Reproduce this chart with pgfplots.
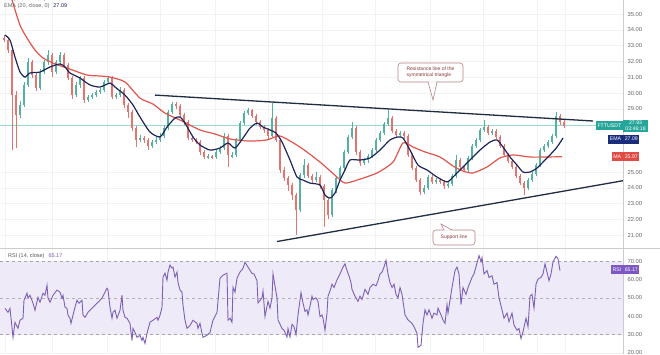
\documentclass[border=0pt]{standalone}
\usepackage{pgfplots}
\usepackage{pgfplotstable}
\pgfplotsset{compat=1.18}
\usepackage{fontspec}
\setmainfont{Liberation Sans}

\definecolor{upc}{RGB}{83,178,160}
\definecolor{dnc}{RGB}{229,115,110}
\definecolor{emac}{RGB}{28,38,92}
\definecolor{mac}{RGB}{224,86,76}
\definecolor{trend}{RGB}{30,45,65}
\definecolor{rsic}{RGB}{126,96,180}
\definecolor{tvteal}{RGB}{38,166,154}
\definecolor{emabox}{RGB}{25,45,125}
\definecolor{mabox}{RGB}{225,75,70}
\definecolor{rsibox}{RGB}{126,87,194}
\definecolor{band}{RGB}{238,234,248}
\definecolor{cbord}{RGB}{185,130,130}
\definecolor{ctext}{RGB}{140,55,55}

\pgfplotstableread{
x o h l c
4 33.48 33.67 33.20 33.35
8 33.35 33.50 32.55 32.72
12 32.72 32.90 26.39 29.87
16 29.87 30.10 26.52 28.61
20 28.61 29.50 28.40 29.24
24 29.24 30.70 29.10 30.51
28 30.51 32.20 30.40 31.96
32 31.96 32.10 30.95 31.14
36 31.14 31.30 30.10 30.32
40 30.32 31.50 30.20 31.33
44 31.33 32.10 31.20 31.96
48 31.96 32.70 31.80 32.41
52 32.41 32.55 31.00 31.33
56 31.33 32.10 31.20 31.96
60 31.96 32.60 31.80 32.41
64 32.41 32.55 31.60 31.77
68 31.77 31.90 30.80 30.95
72 30.95 31.10 29.65 29.87
76 29.87 30.70 29.75 30.51
80 30.51 31.10 30.35 30.95
84 30.95 31.05 29.40 29.56
88 29.56 29.90 29.45 29.75
92 29.75 30.00 29.65 29.87
96 29.87 30.20 29.75 30.06
100 30.06 30.35 29.95 30.19
104 30.19 30.85 30.05 30.70
108 30.70 31.10 30.60 30.95
112 30.95 31.05 29.60 29.75
116 29.75 30.00 29.60 29.87
120 29.87 30.40 29.75 30.19
124 30.19 30.30 29.05 29.24
128 29.24 29.35 28.40 28.80
132 28.80 28.95 27.60 27.78
136 27.78 27.90 26.60 27.03
140 27.03 27.35 26.90 27.15
144 27.15 27.30 26.85 27.03
148 27.03 27.15 26.40 26.65
152 26.65 27.05 26.55 26.90
156 26.90 27.20 26.80 27.03
160 27.03 27.45 26.90 27.28
164 27.28 27.95 27.15 27.78
168 27.78 28.95 27.65 28.80
172 28.80 29.45 28.70 29.30
176 29.30 29.45 29.00 29.18
180 29.18 29.30 28.45 28.61
184 28.61 28.75 28.00 28.16
188 28.16 28.30 27.00 27.15
192 27.15 27.30 26.90 27.03
196 27.03 27.15 26.75 26.90
200 26.90 27.00 26.10 26.27
204 26.27 26.40 25.80 25.95
208 25.95 26.15 25.85 26.01
212 26.01 26.10 25.80 25.95
216 25.95 26.40 25.85 26.27
220 26.27 26.65 26.15 26.52
224 26.52 27.45 26.40 27.28
228 27.28 27.40 25.32 26.08
232 25.98 26.25 25.90 26.08
236 26.08 27.15 25.95 27.03
240 27.03 28.25 26.90 28.10
244 28.10 28.85 27.95 28.73
248 28.73 29.05 28.60 28.92
252 28.92 29.00 28.40 28.54
256 28.54 28.65 28.00 28.16
260 28.16 28.30 27.70 27.85
264 27.85 28.00 27.50 27.66
268 27.66 27.80 27.10 27.28
272 27.28 29.37 27.15 28.42
276 28.42 28.55 26.90 27.03
280 27.03 27.15 24.95 25.13
284 25.13 25.30 24.45 24.62
288 24.62 24.75 23.80 24.18
292 24.18 24.30 23.20 23.54
296 23.54 23.70 21.01 22.59
300 22.59 24.95 22.45 24.81
304 24.81 25.80 24.65 25.44
308 25.44 25.55 24.60 24.75
312 24.75 24.90 24.30 24.49
316 24.49 25.00 24.35 24.68
320 24.68 24.80 23.95 24.11
324 24.11 24.25 21.52 23.23
328 23.23 23.40 22.00 22.28
332 22.28 24.00 22.15 23.86
336 23.86 24.75 23.70 24.62
340 24.62 25.40 24.50 25.25
344 25.25 26.40 25.10 26.27
348 26.27 27.35 26.15 27.22
352 27.22 28.16 27.10 27.78
356 27.78 27.90 26.10 26.27
360 26.27 26.40 25.40 25.57
364 25.57 25.90 25.45 25.76
368 25.76 26.15 25.60 26.01
372 26.01 26.50 25.90 26.39
376 26.39 27.15 26.25 27.03
380 27.03 27.60 26.90 27.47
384 27.47 28.15 27.35 28.04
388 28.04 28.92 27.90 28.42
392 28.42 28.55 27.45 27.59
396 27.59 27.75 27.20 27.34
400 27.34 27.60 27.20 27.47
404 27.47 27.60 27.10 27.28
408 27.28 27.40 25.95 26.08
412 26.08 26.20 25.10 25.25
416 25.25 25.40 24.35 24.49
420 24.49 24.60 23.55 23.73
424 23.73 24.15 23.60 23.99
428 23.99 24.80 23.85 24.68
432 24.68 24.80 24.25 24.37
436 24.37 24.65 24.25 24.49
440 24.49 24.60 24.25 24.37
444 24.37 24.50 23.95 24.11
448 24.11 24.40 24.00 24.24
452 24.24 24.90 24.10 24.75
456 24.75 26.08 24.60 25.76
460 25.76 25.90 25.20 25.32
464 25.32 25.45 25.00 25.13
468 25.13 26.00 25.00 25.89
472 25.89 26.80 25.75 26.65
476 26.65 27.15 26.50 27.03
480 27.03 27.80 26.90 27.66
484 27.66 28.29 27.55 27.85
488 27.85 27.95 27.35 27.47
492 27.47 27.75 27.35 27.59
496 27.59 27.70 27.10 27.22
500 27.22 27.35 26.50 26.65
504 26.65 26.80 25.95 26.08
508 26.08 26.20 25.55 25.70
512 25.70 25.85 25.20 25.32
516 25.32 25.45 24.60 24.75
520 24.75 24.90 24.15 24.30
524 24.30 24.45 23.54 23.99
528 23.99 24.60 23.85 24.49
532 24.49 25.00 24.35 24.87
536 24.87 25.55 24.75 25.44
540 25.44 26.50 25.30 26.39
544 26.39 26.80 26.25 26.65
548 26.65 27.00 26.50 26.90
552 26.90 27.40 26.80 27.28
556 27.28 28.80 27.15 28.54
560 28.54 28.65 28.00 28.16
564 28.16 28.30 27.80 27.93
}\candles

\pgfplotstableread{
x y
5 33.67
10 33.35
15 32.28
20 31.33
25 31.01
30 31.27
40 31.33
50 31.65
60 31.84
65 31.65
70 31.27
80 30.95
90 30.51
100 30.38
110 30.63
115 30.38
125 29.87
133 29.24
140 28.48
150 27.53
160 27.22
167 27.85
175 28.42
180 28.48
185 28.10
193 27.22
200 26.71
210 26.39
220 26.52
228 26.84
235 26.52
243 27.15
250 27.78
257 28.10
263 27.85
270 27.66
276 27.47
282 26.90
290 25.76
297 24.68
303 24.49
310 24.30
320 24.18
325 23.54
330 23.35
335 23.67
340 24.49
345 25.13
350 25.76
360 25.76
370 25.89
380 26.39
390 27.03
398 27.22
403 27.15
410 26.39
418 25.44
427 25.13
437 24.68
447 24.37
453 24.68
460 25.13
470 25.76
480 26.39
490 26.90
497 27.03
503 26.58
510 25.95
517 25.44
523 25.00
530 25.00
537 25.25
543 25.63
550 26.08
557 26.58
563 27.15
}\ema

\pgfplotstableread{
x y
12 35.89
20 34.30
27 33.48
35 32.72
43 32.22
55 31.84
67 31.58
87 31.14
100 31.08
110 31.01
125 30.70
140 29.68
153 29.30
165 28.73
180 28.29
200 27.66
215 27.41
230 27.09
250 26.96
267 27.03
280 27.28
300 26.58
320 25.63
337 24.68
345 24.30
357 24.49
377 24.94
393 25.63
403 26.84
413 26.58
425 26.27
440 25.95
453 25.38
463 25.06
473 24.94
487 25.32
500 25.89
513 26.08
530 25.95
545 25.95
562 25.97
}\ma

\pgfplotstableread{
x y
5 44.3
8 42.1
10 44.3
12 33.9
13 28.5
15 36.7
18 33.4
20 37.8
23 38.9
24 48.7
27 52.5
28 49.8
30 51.4
33 47.1
35 43.2
38 50.3
40 47.6
43 52.5
45 51.4
47 56.9
48 49.8
50 47.6
53 51.4
57 54.2
60 53.1
62 49.8
63 51.4
65 44.9
67 44.3
68 40.5
70 38.9
71 36.1
73 40.5
75 44.9
77 48.7
79 47.1
82 48.7
83 40.5
85 39.4
88 42.1
92 44.3
95 46.0
98 47.6
102 49.8
105 53.1
107 55.2
108 54.2
110 44.9
112 38.9
113 42.1
115 43.2
117 38.9
120 43.2
122 51.4
123 43.2
125 39.4
127 38.9
130 36.1
132 26.8
133 33.4
135 31.2
137 28.5
140 29.6
142 26.8
143 28.5
145 25.2
147 30.7
150 36.7
153 37.8
157 39.4
158 37.8
160 40.5
162 44.9
163 61.3
165 63.4
167 59.6
168 64.0
170 67.8
172 66.2
173 66.7
175 61.3
177 64.0
178 58.5
180 54.2
182 53.1
183 46.0
185 37.8
187 33.4
190 35.0
193 37.8
197 36.1
198 33.4
200 36.1
202 30.7
203 28.5
207 29.6
210 31.2
213 37.8
217 42.1
220 60.7
223 62.3
227 63.4
228 37.8
230 38.9
232 36.7
233 55.8
235 53.1
237 60.7
240 64.0
243 66.0
245 69.4
248 66.7
252 63.3
254 63.0
257 59.3
258 47.2
262 50.0
263 53.7
265 39.8
268 48.1
270 44.4
272 50.0
273 63.0
277 50.0
278 38.0
282 33.3
284 32.4
287 28.7
288 33.3
290 28.7
292 35.6
294 34.3
296 30.0
298 40.7
301 52.8
303 47.2
305 42.6
307 43.5
308 40.7
310 45.4
312 50.9
313 49.1
316 50.0
318 48.1
320 39.8
322 40.7
323 38.9
325 32.4
327 41.7
328 50.9
330 53.7
332 57.4
334 55.6
337 59.8
340 63.0
343 66.7
345 68.5
347 64.8
349 62.0
351 58.3
352 54.6
355 50.9
358 48.1
360 50.9
362 49.1
365 54.6
368 51.9
370 55.6
373 57.4
376 56.5
378 59.3
380 63.0
382 63.9
384 66.7
386 70.4
388 63.0
390 58.3
392 55.6
394 57.4
396 51.9
398 50.0
400 55.6
402 51.9
405 40.7
408 38.0
412 36.1
414 34.3
417 30.6
418 23.1
421 24.1
423 36.1
425 43.5
427 40.7
429 43.5
432 38.9
434 41.7
437 40.7
438 44.4
441 40.7
443 38.0
445 36.1
447 46.3
448 41.7
452 55.6
455 64.8
457 66.7
459 63.0
461 46.3
463 55.6
466 51.9
468 55.6
472 61.1
474 63.0
477 68.9
479 73.0
481 69.6
482 71.9
484 63.0
487 64.8
489 61.1
492 62.0
494 57.4
497 58.3
499 50.0
502 43.5
504 38.9
507 41.7
509 37.0
512 41.7
514 35.2
517 32.4
519 33.3
521 27.8
523 31.5
526 38.9
528 34.3
530 50.9
532 51.9
534 44.4
536 57.4
538 60.2
541 61.1
543 63.0
545 68.5
547 63.9
549 59.3
551 63.0
553 69.4
556 72.6
558 71.3
560 64.8
}\rsi

\pgfplotsset{
  tvaxis/.style={
    scale only axis, width=623pt, xmin=0, xmax=623,
    axis line style={draw=none}, major tick length=0pt,
    xtick={5,52,107,160,215,268,322,375,430,483,537,565}, xticklabels={},
    xmajorgrids, ymajorgrids, grid style={black!5, line width=0.4pt},
    yticklabel pos=right,
    yticklabel style={font=\fontsize{5.8}{7}\selectfont, text=black!60, xshift=1pt,
      /pgf/number format/.cd, fixed, fixed zerofill, precision=2, assume math mode=true},
  },
  wick/.style={draw=none, forget plot, error bars/.cd, y dir=plus, y explicit,
    error mark=none, error bar style={draw=#1, line width=0.6pt}},
  body/.style={draw=none, forget plot, error bars/.cd, y dir=both, y explicit,
    error mark=none, error bar style={draw=#1, line width=2.4pt}},
}
\tikzset{
  lbl/.style={font=\fontsize{5.2}{6}\selectfont, text=white, inner xsep=1.6pt, inner ysep=1.2pt},
}

\begin{document}
\begin{tikzpicture}
\useasboundingbox (0,0) rectangle (660pt,354pt);
\fill[white] (0,0) rectangle (660pt,354pt);

% ---------------- price pane ----------------
\begin{axis}[tvaxis, at={(0pt,106pt)}, anchor=south west, height=248pt,
  ymin=20.19, ymax=35.89, ytick={21,22,23,24,25,29,30,31,32,33,34,35}]
  \addplot[draw=tvteal!45, line width=0.5pt, forget plot] coordinates {(0,27.93) (623,27.93)};
  \addplot[wick=upc] table[x=x, y=l, y error plus expr=\thisrow{h}-\thisrow{l},
    restrict expr to domain={\thisrow{c}-\thisrow{o}}{0:100}] {\candles};
  \addplot[wick=dnc] table[x=x, y=l, y error plus expr=\thisrow{h}-\thisrow{l},
    restrict expr to domain={\thisrow{c}-\thisrow{o}}{-100:-0.0001}] {\candles};
  \addplot[body=upc] table[x=x, y expr=(\thisrow{o}+\thisrow{c})/2,
    y error expr={max(abs(\thisrow{c}-\thisrow{o})/2,0.04)},
    restrict expr to domain={\thisrow{c}-\thisrow{o}}{0:100}] {\candles};
  \addplot[body=dnc] table[x=x, y expr=(\thisrow{o}+\thisrow{c})/2,
    y error expr={max(abs(\thisrow{c}-\thisrow{o})/2,0.04)},
    restrict expr to domain={\thisrow{c}-\thisrow{o}}{-100:-0.0001}] {\candles};
  \addplot[mac, line width=1.2pt, smooth, tension=0.4] table[x=x, y=y] {\ma};
  \addplot[emac, line width=1.2pt, smooth, tension=0.4] table[x=x, y=y] {\ema};
  \addplot[trend, line width=1.3pt] coordinates {(155,29.87) (593,28.23)};
  \addplot[trend, line width=1.3pt] coordinates {(277,20.60) (623,24.45)};
  \coordinate (pP) at (axis cs:623,27.93);
  \coordinate (pPtop) at (axis cs:623,28.33);
  \coordinate (pE) at (axis cs:623,27.09);
  \coordinate (pM) at (axis cs:623,25.97);
\end{axis}

% ---------------- RSI pane ----------------
\begin{axis}[tvaxis, at={(0pt,0pt)}, anchor=south west, height=106pt,
  ymin=19.45, ymax=77.1, ytick={20,30,...,70}]
  \addplot[draw=none, fill=band, forget plot] coordinates {(0,30) (623,30) (623,70) (0,70)} -- cycle;
  \addplot[black!35, dashed, line width=0.5pt, forget plot] coordinates {(0,70) (623,70)};
  \addplot[black!30, dashed, line width=0.5pt, forget plot] coordinates {(0,50) (623,50)};
  \addplot[black!35, dashed, line width=0.5pt, forget plot] coordinates {(0,30) (623,30)};
  \addplot[rsic, line width=0.9pt] table[x=x, y=y] {\rsi};
  \coordinate (pR) at (axis cs:623,65.17);
\end{axis}

\draw[black!20, line width=0.5pt] (0,106pt) -- (660pt,106pt);
\draw[black!20, line width=0.5pt] (623pt,0) -- (623pt,354pt);

% right-hand labels
\node[lbl, fill=tvteal, anchor=east, minimum height=9pt] at (pP) {FTTUSDT};
\node[lbl, fill=tvteal, anchor=north west, align=center, inner ysep=1.5pt, inner xsep=2.2pt]
   at (pPtop) {27.93\\[-0.5pt]03:46:18};
\node[lbl, fill=emabox, anchor=east, minimum height=9pt] at (pE) {EMA};
\node[lbl, fill=emabox, anchor=west, minimum height=9pt] at (pE) {27.09};
\node[lbl, fill=mabox, anchor=east, minimum height=9pt] at (pM) {MA};
\node[lbl, fill=mabox, anchor=west, minimum height=9pt] at (pM) {25.97};
\node[lbl, fill=rsibox, anchor=east, minimum height=9pt] at (pR) {RSI};
\node[lbl, fill=rsibox, anchor=west, minimum height=9pt] at (pR) {65.17};

% legends
\node[anchor=west, font=\fontsize{5.5}{6}\selectfont, inner sep=0pt] at (4pt,355pt)
  {\textcolor{black!60}{MA (50, close, 0)}\hspace{4pt}\textcolor{mac}{25.97}};
\node[anchor=west, font=\fontsize{5.5}{6}\selectfont, inner sep=0pt] at (4pt,348pt)
  {\textcolor{black!60}{EMA (20, close, 0)}\hspace{4pt}\textcolor{emac}{27.09}};
\node[anchor=west, font=\fontsize{5.5}{6}\selectfont, inner sep=0pt] at (8pt,98pt)
  {\textcolor{black!65}{RSI (14, close)}\hspace{4pt}\textcolor{rsic}{65.17}};

% callouts
\draw[cbord, fill=white, rounded corners=3pt, line width=0.6pt] (398pt,272pt) rectangle (463pt,291pt);
\fill[white] (428.6pt,272.5pt) -- (433pt,254pt) -- (436.4pt,272.5pt) -- cycle;
\draw[cbord, line width=0.6pt] (428pt,272pt) -- (433pt,254pt) -- (437pt,272pt);
\node[align=left, font=\fontsize{5}{5.8}\selectfont, text=ctext, inner sep=0pt] at (430.5pt,281.5pt)
  {Resistance line of the\\symmetrical triangle};

\draw[cbord, fill=white, rounded corners=3pt, line width=0.6pt] (433pt,109pt) rectangle (475pt,124pt);
\fill[white] (444.6pt,123.5pt) -- (441pt,130pt) -- (451.4pt,123.5pt) -- cycle;
\draw[cbord, line width=0.6pt] (444pt,124pt) -- (441pt,130pt) -- (452pt,124pt);
\node[font=\fontsize{5}{5.8}\selectfont, text=ctext, inner sep=0pt] at (454pt,116.5pt) {Support line};
\end{tikzpicture}
\end{document}
